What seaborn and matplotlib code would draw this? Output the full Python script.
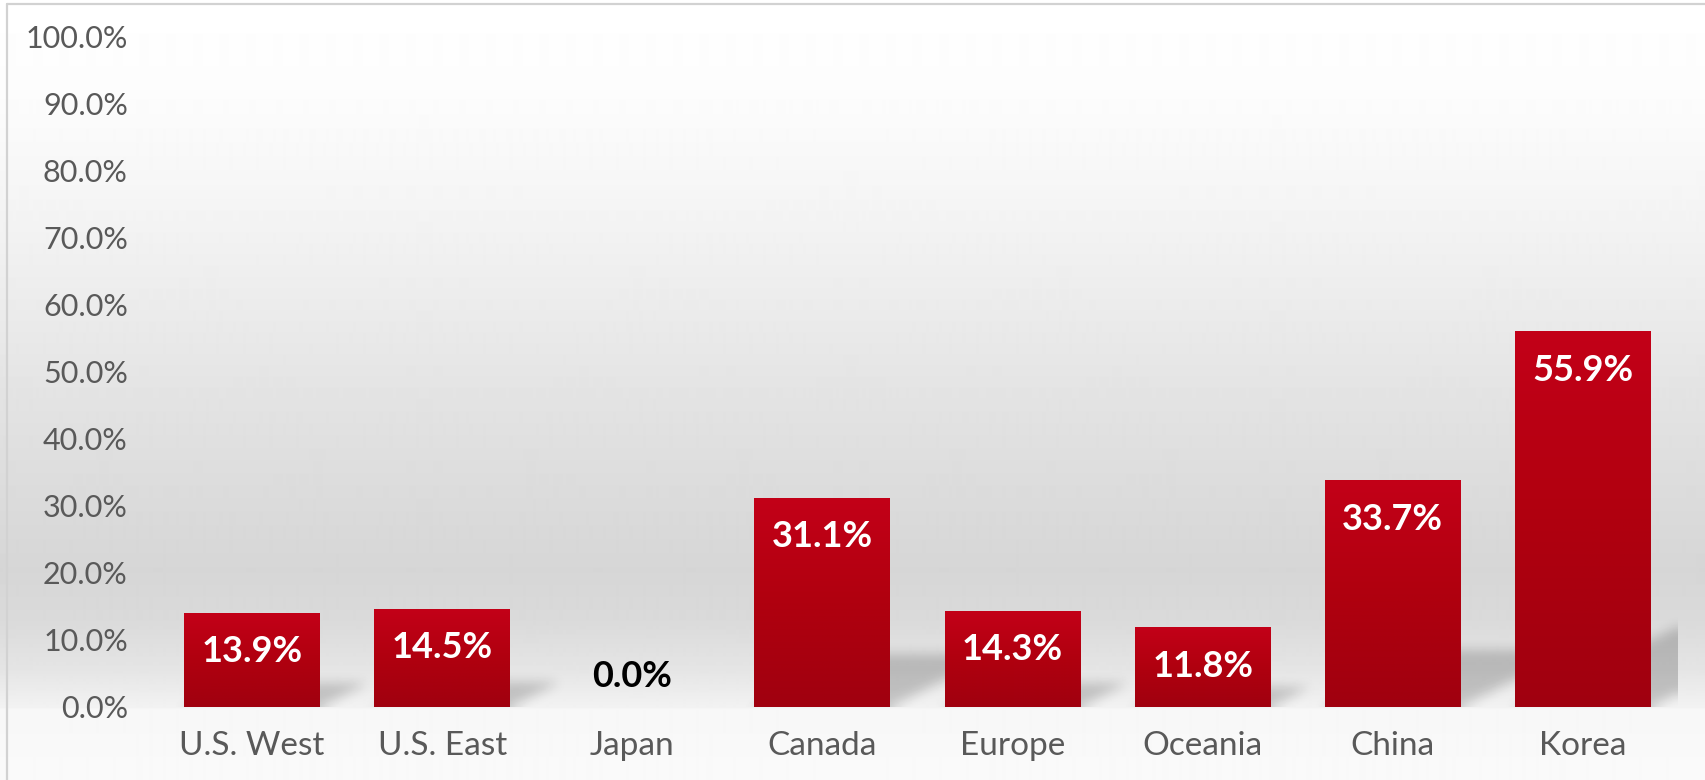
import numpy as np
import matplotlib
matplotlib.use("Agg")
import matplotlib.pyplot as plt
import seaborn as sns
from matplotlib.colors import LinearSegmentedColormap

# ---- data ----
categories = ["U.S. West", "U.S. East", "Japan", "Canada", "Europe", "Oceania", "China", "Korea"]
values = [0.139, 0.145, 0.0, 0.311, 0.143, 0.118, 0.337, 0.559]
bar_labels = ["13.9%", "14.5%", "0.0%", "31.1%", "14.3%", "11.8%", "33.7%", "55.9%"]
yticks = [0.0, 0.1, 0.2, 0.3, 0.4, 0.5, 0.6, 0.7, 0.8, 0.9, 1.0]
ytick_labels = ["0.0%", "10.0%", "20.0%", "30.0%", "40.0%", "50.0%",
                "60.0%", "70.0%", "80.0%", "90.0%", "100.0%"]

sns.set_theme(style="white")
plt.rcParams['font.family'] = ['Lato', 'DejaVu Sans']

W, H = 1706, 780
fig = plt.figure(figsize=(W / 100, H / 100), dpi=100)
fig.patch.set_facecolor('#fafafa')

# ---- background gradient ----
bg = fig.add_axes([0, 0, 1, 1], zorder=0)
stops_y = np.array([0, 100, 200, 300, 400, 500, 570, 620, 670, 707, 709, 780])
stops_g = np.array([255, 252, 245, 236, 227, 219, 214, 218, 229, 242, 247, 250])
rows = np.arange(H)
g = np.interp(rows, stops_y, stops_g) / 255.0
img = np.repeat(g[:, None], 2, axis=1)
bg.imshow(img, cmap='gray', vmin=0, vmax=1, aspect='auto',
          extent=[0, 1, 0, 1], origin='upper', interpolation='bilinear')
bg.plot([7 / W, 7 / W], [0, 1 - 4 / H], color='#d2d2d2', lw=1.6)
bg.plot([7 / W, 1], [1 - 4 / H, 1 - 4 / H], color='#d2d2d2', lw=1.6)
bg.set_xlim(0, 1)
bg.set_ylim(0, 1)
bg.axis('off')

# ---- main axes ----
x0, x1, ytop, ybot = 157, 1678, 36, 707
ax = fig.add_axes([x0 / W, 1 - ybot / H, (x1 - x0) / W, (ybot - ytop) / H], zorder=1)
ax.patch.set_alpha(0)

sns.barplot(x=categories, y=values, ax=ax, width=0.715, color='#b00014',
            saturation=1, zorder=3)
for p in ax.patches:
    p.set_zorder(3)
    p.set_edgecolor('none')

# ---- cast shadows ----
nx, ny = (x1 - x0), (ybot - ytop)
xs = np.linspace(-0.5, 7.5, nx)
ys = np.linspace(0, 1, ny)
X, Y = np.meshgrid(xs, ys)
shadow = np.zeros_like(X)
a_k, b_k = 1.8, 0.25
for p in ax.patches:
    v = p.get_height()
    if v <= 0:
        continue
    xL = p.get_x()
    xR = xL + p.get_width()
    hs = b_k * v
    t = Y / hs
    m = (Y >= 0) & (Y <= hs) & (X >= xL + t * a_k * v) & (X <= xR + t * a_k * v)
    shadow = np.maximum(shadow, m.astype(float))


def box_blur(arr, r, axis):
    c = np.cumsum(np.pad(arr, [(r + 1, r) if i == axis else (0, 0) for i in range(2)],
                         mode='edge'), axis=axis)
    if axis == 0:
        return (c[2 * r + 1:, :] - c[:-2 * r - 1, :]) / (2 * r + 1)
    return (c[:, 2 * r + 1:] - c[:, :-2 * r - 1]) / (2 * r + 1)


for _ in range(3):
    shadow = box_blur(shadow, 5, 0)
    shadow = box_blur(shadow, 5, 1)
rgba = np.zeros((ny, nx, 4))
rgba[..., 3] = shadow * 0.19
ax.imshow(rgba, extent=[-0.5, 7.5, 0, 1], origin='lower', aspect='auto', zorder=2)

# ---- bar gradients ----
red_cmap = LinearSegmentedColormap.from_list('redgrad', ['#a0000f', '#b0000f', '#c30018'])
grad = np.linspace(0, 1, 256).reshape(-1, 1)
for p in ax.patches:
    v = p.get_height()
    if v <= 0:
        continue
    xL = p.get_x()
    ax.imshow(grad, extent=[xL, xL + p.get_width(), 0, v], cmap=red_cmap,
              origin='lower', aspect='auto', zorder=3.5)

ax.set_xlim(-0.5, 7.5)
ax.set_ylim(0, 1)
ax.set_aspect('auto')

# ---- value labels ----
for p, lab in zip(ax.patches, bar_labels):
    v = p.get_height()
    cx = p.get_x() + p.get_width() / 2
    if v > 0:
        ax.text(cx, v - 0.057, lab, ha='center', va='center', color='white',
                fontsize=26, fontweight='bold', zorder=5)
    else:
        ax.text(cx, 0.046, lab, ha='center', va='center', color='black',
                fontsize=26, fontweight='bold', zorder=5)

# ---- axes styling ----
ax.set_yticks(yticks)
ax.set_yticklabels(ytick_labels)
ax.tick_params(axis='y', length=0, pad=21, labelsize=22, labelcolor='#595959')
ax.tick_params(axis='x', length=0, pad=17, labelsize=24, labelcolor='#595959')
ax.set_xlabel('')
ax.set_ylabel('')
ax.grid(False)
sns.despine(ax=ax, left=True, bottom=True)

fig.savefig('out.png', dpi=100)
